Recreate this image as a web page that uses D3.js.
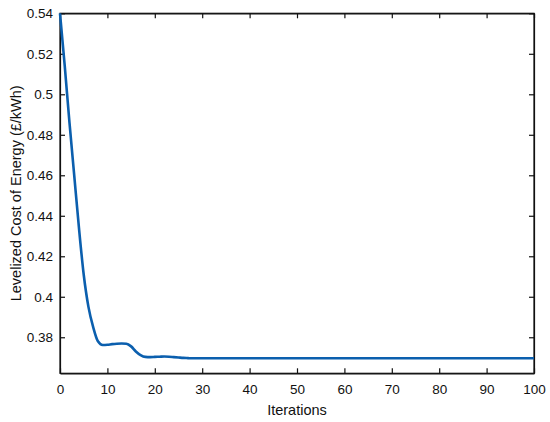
<!DOCTYPE html>
<html>
<head>
<meta charset="utf-8">
<script src="https://cdn.jsdelivr.net/npm/d3@7"></script>
<style>
  body { margin: 0; background: #fff; }
  svg text { font-family: "Liberation Sans", Arial, sans-serif; fill: #111; }
</style>
</head>
<body>
<div id="chart"></div>
<script>
// data
const iterations = [0, 1, 2, 3, 4, 5, 6, 7, 8, 9, 10, 11, 12, 13, 14, 15, 16, 17, 18, 19, 20, 21, 22, 23, 24, 25, 26, 27, 28, 100];
const lcoe = [0.540, 0.514, 0.486, 0.460, 0.434, 0.411, 0.395, 0.385, 0.378, 0.3762, 0.3763, 0.3766, 0.3768, 0.3769, 0.3768, 0.3755, 0.3730, 0.3712, 0.3703, 0.3702, 0.3703, 0.3704, 0.3705, 0.3704, 0.3702, 0.3700, 0.3698, 0.3697, 0.3696, 0.3696];
const xTicks = [0, 10, 20, 30, 40, 50, 60, 70, 80, 90, 100];
const yTicks = [0.38, 0.40, 0.42, 0.44, 0.46, 0.48, 0.50, 0.52, 0.54];

const width = 550, height = 422;
const margin = { top: 13.3, right: 16, bottom: 48.7, left: 60 };

const svg = d3.select("#chart")
  .append("svg")
    .attr("width", width)
    .attr("height", height);

const x = d3.scaleLinear()
  .domain([0, 100])
  .range([margin.left, width - margin.right]);

const y = d3.scaleLinear()
  .domain([0.3622, 0.54])
  .range([height - margin.bottom, margin.top]);

const fmt = d => String(+d.toFixed(2));

// bottom axis, ticks pointing inward
svg.append("g")
  .attr("transform", `translate(0,${height - margin.bottom})`)
  .call(d3.axisBottom(x).tickValues(xTicks).tickSizeInner(-5).tickSizeOuter(0).tickPadding(11))
  .call(g => g.selectAll("text").attr("font-size", 13.5));

// top axis, ticks only
svg.append("g")
  .attr("transform", `translate(0,${margin.top})`)
  .call(d3.axisTop(x).tickValues(xTicks).tickSizeInner(-5).tickSizeOuter(0).tickFormat(""));

// left axis
svg.append("g")
  .attr("transform", `translate(${margin.left},0)`)
  .call(d3.axisLeft(y).tickValues(yTicks).tickSizeInner(-5).tickSizeOuter(0).tickPadding(7).tickFormat(fmt))
  .call(g => g.selectAll("text").attr("font-size", 13.5));

// right axis, ticks only
svg.append("g")
  .attr("transform", `translate(${width - margin.right},0)`)
  .call(d3.axisRight(y).tickValues(yTicks).tickSizeInner(-5).tickSizeOuter(0).tickFormat(""));

svg.selectAll(".domain, .tick line").attr("stroke", "#111").attr("stroke-width", 1.2);

// frame
svg.append("rect")
  .attr("x", margin.left)
  .attr("y", margin.top)
  .attr("width", width - margin.left - margin.right)
  .attr("height", height - margin.top - margin.bottom)
  .attr("fill", "none")
  .attr("stroke", "#111")
  .attr("stroke-width", 1.2);

// the curve
const pts = iterations.map((it, i) => [it, lcoe[i]]);
svg.append("path")
  .datum(pts)
  .attr("fill", "none")
  .attr("stroke", "#0b5fae")
  .attr("stroke-width", 2.6)
  .attr("d", d3.line()
    .x(d => x(d[0]))
    .y(d => y(d[1]))
    .curve(d3.curveMonotoneX));

// axis titles
svg.append("text")
  .attr("x", (margin.left + width - margin.right) / 2)
  .attr("y", 415)
  .attr("text-anchor", "middle")
  .attr("font-size", 14.5)
  .text("Iterations");

svg.append("text")
  .attr("transform", `translate(20.5,${(margin.top + height - margin.bottom) / 2}) rotate(-90)`)
  .attr("text-anchor", "middle")
  .attr("font-size", 14.5)
  .text("Levelized Cost of Energy (£/kWh)");
</script>
</body>
</html>
